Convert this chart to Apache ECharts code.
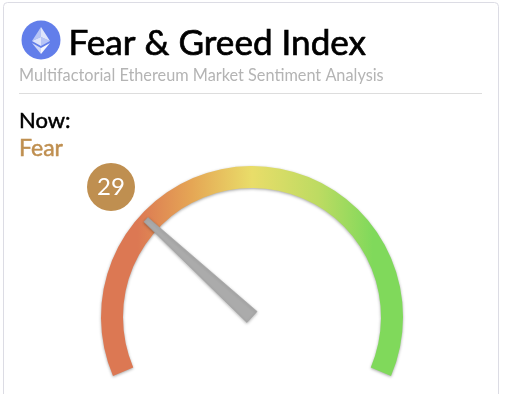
<!DOCTYPE html>
<html><head><meta charset="utf-8">
<style>html,body{margin:0;padding:0;background:#fff}#c{width:512px;height:394px}</style>
<script src="https://cdn.jsdelivr.net/npm/echarts@6/dist/echarts.min.js"></script>
</head><body><div id="c"></div>
<script>
const titleText = 'Fear & Greed Index';
const subtitleText = 'Multifactorial Ethereum Market Sentiment Analysis';
const nowLabel = 'Now:';
const stateLabel = 'Fear';
const gaugeValue = 29;
const gaugeMin = 0;
const gaugeMax = 100;
const gradientStops = [0, 0.12, 0.3, 0.5, 0.72, 0.9, 1];
const gradientColors = ['#DC7853', '#DC7853', '#E5A655', '#E9DD69', '#BDDB62', '#80D95B', '#80D95B'];

const chart = echarts.init(document.getElementById('c'), null, {renderer:'canvas'});
const font = 'Lato, "Open Sans", sans-serif';
const arcGradient = new echarts.graphic.LinearGradient(0, 0, 1, 0,
  gradientStops.map((o, i) => ({offset:o, color:gradientColors[i]})));
chart.setOption({
  backgroundColor:'#fff',
  animation:false,
  title:[
    {text:titleText, left:63.5, top:21.5, textStyle:{fontFamily:font, fontSize:35.1, fontWeight:400, color:'#000', textBorderColor:'#000', textBorderWidth:0.7}},
    {text:subtitleText, left:14, top:63, textStyle:{fontFamily:font, fontSize:16.3, fontWeight:400, color:'#b4b4b4'}},
    {text:nowLabel, left:14, top:105, textStyle:{fontFamily:font, fontSize:22, fontWeight:400, color:'#000', textBorderColor:'#000', textBorderWidth:0.5}},
    {text:stateLabel, left:14, top:132, textStyle:{fontFamily:font, fontSize:23, fontWeight:400, color:'#BF8F50', textBorderColor:'#BF8F50', textBorderWidth:0.5}}
  ],
  graphic:[
    {type:'rect', z:-1, shape:{x:3.5, y:2.5, width:495, height:420, r:4}, style:{fill:'#fff', stroke:'#dcdce4', lineWidth:1}},
    {type:'line', shape:{x1:19, y1:93.5, x2:482, y2:93.5}, style:{stroke:'#dddddd', lineWidth:1}},
    {type:'circle', shape:{cx:41, cy:40, r:19.5}, style:{fill:'#627EEA'}},
    {type:'polygon', shape:{points:[[41,27],[32,41],[41,37]]}, style:{fill:'#ffffff', opacity:0.55}},
    {type:'polygon', shape:{points:[[41,27],[50,41],[41,37]]}, style:{fill:'#ffffff', opacity:0.8}},
    {type:'polygon', shape:{points:[[32,41],[41,37],[41,46]]}, style:{fill:'#ffffff', opacity:0.8}},
    {type:'polygon', shape:{points:[[50,41],[41,37],[41,46]]}, style:{fill:'#ffffff', opacity:0.55}},
    {type:'polygon', shape:{points:[[32,43],[41,48],[41,54]]}, style:{fill:'#ffffff', opacity:0.7}},
    {type:'polygon', shape:{points:[[50,43],[41,48],[41,54]]}, style:{fill:'#ffffff', opacity:0.95}}
  ],
  series:[{
    type:'gauge',
    center:[252,317], radius:151,
    startAngle:203, endAngle:-23,
    min:gaugeMin, max:gaugeMax,
    axisLine:{roundCap:false, lineStyle:{width:22, color:[[1, arcGradient]], shadowBlur:3, shadowColor:'rgba(0,0,0,0.35)', shadowOffsetY:1}},
    axisTick:{show:false}, splitLine:{show:false}, axisLabel:{show:false},
    pointer:{show:true, icon:'path://M3 0 L7 0 L10 100 L0 100 Z', length:144, width:15, offsetCenter:[0,0],
      itemStyle:{color:'#ababab', borderColor:'#9f9f9f', borderWidth:0.5, shadowBlur:3, shadowColor:'rgba(0,0,0,0.3)', shadowOffsetY:1}},
    anchor:{show:false},
    title:{show:false},
    detail:{
      show:true, valueAnimation:false, formatter:'{value}', offsetCenter:[-141,-130], padding:0,
      width:48, height:48, lineHeight:48, borderRadius:24, backgroundColor:'#BF8F50',
      color:'#fff', fontFamily:font, fontSize:24, fontWeight:400
    },
    data:[{value:gaugeValue}]
  }]
});
</script></body></html>
